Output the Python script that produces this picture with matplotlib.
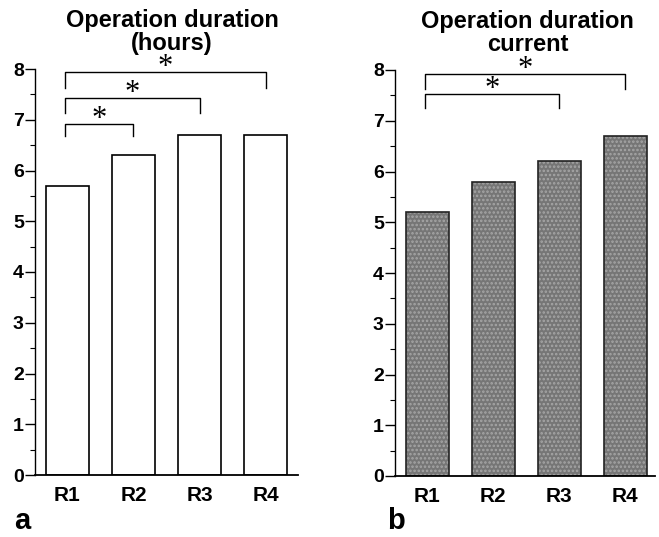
import matplotlib
matplotlib.use("Agg")
import matplotlib.pyplot as plt
import numpy as np

categories = ["R1", "R2", "R3", "R4"]
hours_values = [5.7, 6.3, 6.7, 6.7]
current_values = [5.2, 5.8, 6.2, 6.7]
y_ticks = [0, 1, 2, 3, 4, 5, 6, 7, 8]

# significance brackets: (start index, end index, top level, leg bottom)
hours_brackets = [(0, 3, 7.94, 7.63), (0, 2, 7.43, 7.13), (0, 1, 6.92, 6.68)]
current_brackets = [(0, 3, 7.92, 7.63), (0, 2, 7.53, 7.25)]

plt.rcParams['font.family'] = ['Liberation Sans', 'DejaVu Sans']
plt.rcParams['hatch.linewidth'] = 1.2

fig = plt.figure(figsize=(6.59, 5.37), dpi=100)
ax1 = fig.add_axes([35/659, 1-475/537, (298-35)/659, (475-69)/537])
ax2 = fig.add_axes([395/659, 1-476/537, (655-395)/659, (476-70)/537])

x = np.arange(len(categories))
width = 0.66

def style(ax, xr):
    ax.set_ylim(0, 8)
    ax.set_xlim(-0.49, xr)
    ax.spines['top'].set_visible(False)
    ax.spines['right'].set_visible(False)
    ax.spines['left'].set_linewidth(1.0)
    ax.spines['bottom'].set_linewidth(1.3)
    ax.set_yticks(y_ticks)
    ax.set_yticks(np.arange(0.5, 8, 1.0), minor=True)
    ax.tick_params(axis='y', which='major', length=7, width=1, labelsize=14, pad=1)
    ax.tick_params(axis='y', which='minor', length=3.5, width=0.8)
    ax.tick_params(axis='x', length=0, labelsize=15, pad=8)
    ax.set_xticks(x)
    ax.set_xticklabels(categories, fontweight='bold')
    for lab in ax.get_yticklabels():
        lab.set_fontweight('bold')

def brackets(ax, br):
    for i, j, top, bot in br:
        xi, xj = x[i] - 0.03, x[j]
        ax.plot([xi, xi, xj, xj], [bot, top, top, bot], color='black', lw=1.0, clip_on=False)
        ax.text((xi + xj) / 2, top - 0.06, '*', ha='center', va='baseline',
                fontsize=22, family=['Liberation Serif', 'DejaVu Serif'], clip_on=False)

# panel a
ax1.bar(x, hours_values, width=width, color='white', edgecolor='black', linewidth=1.2)
style(ax1, 3.49)
brackets(ax1, hours_brackets)
ax1.set_title("Operation duration\n(hours)", fontsize=17, fontweight='bold', pad=14,
              linespacing=1.0, x=0.521)

# panel b
ax2.bar(x, current_values, width=width, color='#767676', edgecolor='#a6a6a6', hatch='....', linewidth=0)
ax2.bar(x, current_values, width=width, color='none', edgecolor='#222222', linewidth=1.2)
style(ax2, 3.45)
brackets(ax2, current_brackets)
ax2.set_title("Operation duration\ncurrent", fontsize=17, fontweight='bold', pad=14,
              linespacing=1.0, x=0.51)

fig.text(14/659, 2/537, 'a', fontsize=21, fontweight='bold', ha='left', va='bottom')
fig.text(387/659, 2/537, 'b', fontsize=21, fontweight='bold', ha='left', va='bottom')

fig.savefig('out.png', dpi=100)
